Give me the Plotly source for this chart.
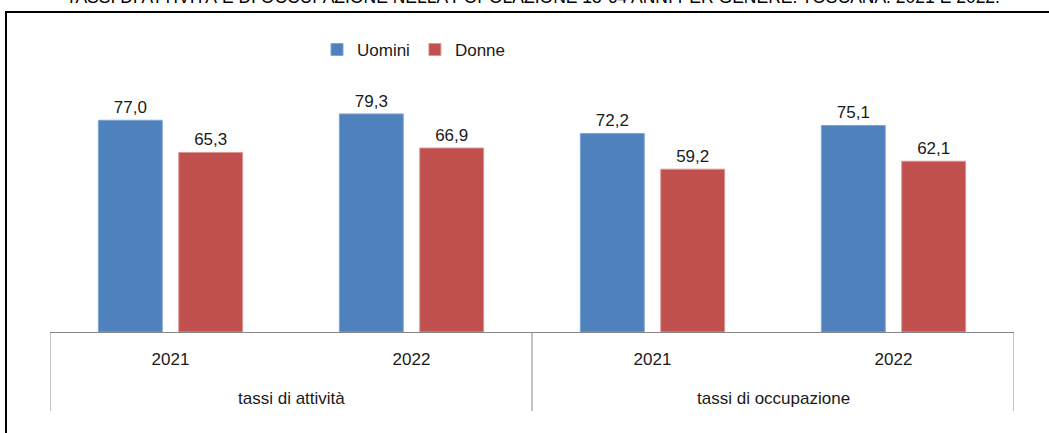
import plotly.graph_objects as go

groups = ["tassi di attività", "tassi di attività", "tassi di occupazione", "tassi di occupazione"]
years = ["2021", "2022", "2021", "2022"]
uomini = [77.0, 79.3, 72.2, 75.1]
donne = [65.3, 66.9, 59.2, 62.1]
title_text = "TASSI DI ATTIVITÀ E DI OCCUPAZIONE NELLA POPOLAZIONE 15-64 ANNI PER GENERE. TOSCANA. 2021 E 2022."

FONT = "Liberation Sans Narrow, Arial Narrow, Liberation Sans, Arial, sans-serif"
FS = 17

W, H = 1049, 433
L, R, T, B = 50, 35, 57, 101
PW, PH = W - L - R, H - T - B


def px_x(p):
    return (p - L) / PW


def px_y(p):
    return (H - B - p) / PH


def fmt(v):
    return f"{v:.1f}".replace(".", ",")


xi = list(range(len(years)))

fig = go.Figure()
fig.add_bar(name="Uomini", x=xi, y=uomini,
            marker=dict(color="#4F81BD", line=dict(color="#7FA3D3", width=1)),
            text=[fmt(v) for v in uomini], textposition="outside",
            textfont=dict(size=FS, color="#1a1a1a"), cliponaxis=False)
fig.add_bar(name="Donne", x=xi, y=donne,
            marker=dict(color="#C0504D", line=dict(color="#D99694", width=1)),
            text=[fmt(v) for v in donne], textposition="outside",
            textfont=dict(size=FS, color="#1a1a1a"), cliponaxis=False)

# group labels and dividers of the two-level category axis
annotations = [dict(text=title_text, xref="paper", yref="paper", x=px_x(533), y=px_y(-3),
                    xanchor="center", yanchor="middle", showarrow=False,
                    font=dict(size=17.5, color="black"))]
shapes = []
seen = []
for g in groups:
    if g not in seen:
        seen.append(g)
bounds = [-0.5]
for g in seen:
    idx = [i for i, gg in enumerate(groups) if gg == g]
    annotations.append(dict(text=g, xref="x", yref="paper", x=sum(idx) / len(idx), y=px_y(398),
                            xanchor="center", yanchor="middle", showarrow=False,
                            font=dict(size=FS, color="#1a1a1a")))
    bounds.append(max(idx) + 0.5)
for b in bounds:
    shapes.append(dict(type="line", xref="x", yref="paper", x0=b, x1=b, y0=0, y1=px_y(411),
                       line=dict(color="#868686", width=1)))
shapes.append(dict(type="rect", xref="paper", yref="paper", x0=px_x(6), x1=px_x(1100),
                   y0=px_y(500), y1=px_y(12), line=dict(color="black", width=2),
                   fillcolor="rgba(0,0,0,0)"))

fig.update_layout(
    width=W, height=H,
    margin=dict(l=L, r=R, t=T, b=B, autoexpand=False),
    barmode="group", bargap=0.333, bargroupgap=0.205,
    plot_bgcolor="white", paper_bgcolor="white",
    font=dict(family=FONT, size=FS, color="#1a1a1a"),
    showlegend=True,
    legend=dict(orientation="h", x=px_x(414), xanchor="center", y=px_y(50), yanchor="middle",
                font=dict(size=FS), itemwidth=30, tracegroupgap=0, bgcolor="rgba(0,0,0,0)"),
    annotations=annotations,
    shapes=shapes,
)
fig.update_xaxes(range=[-0.5, len(years) - 0.5], tickmode="array", tickvals=xi, ticktext=years,
                 showline=True, linecolor="#868686", linewidth=1, ticks="outside",
                 ticklen=12, tickcolor="rgba(0,0,0,0)", tickfont=dict(size=FS),
                 showgrid=False, zeroline=False)
fig.update_yaxes(range=[0, 100], visible=False, showgrid=False)

fig.write_html("out.html", config={"displayModeBar": False},
               post_script="document.body.style.margin='0';")
